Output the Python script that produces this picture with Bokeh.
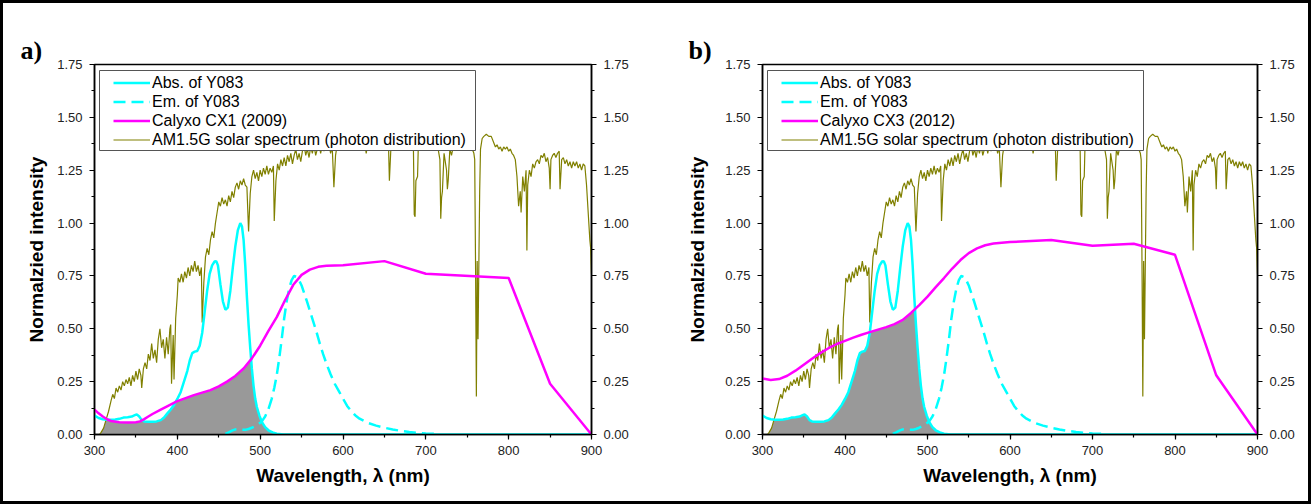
import numpy as np
from bokeh.plotting import figure
from bokeh.models import (Range1d, LinearAxis, SingleIntervalTicker, NumeralTickFormatter,
                          BoxAnnotation, Legend, LegendItem, Title)
from bokeh.layouts import row
from bokeh.embed import file_html
from bokeh.resources import INLINE

# ---------------- data ----------------
solar_wl = [300, 306, 308, 311, 314, 317, 320, 322, 324, 326, 328, 330, 332, 334, 336, 338, 340, 342, 344, 346,
            348, 350, 352, 354, 356, 357, 359, 361, 363, 365, 367, 369, 371, 373, 375, 377, 379, 381, 383, 385,
            387, 389, 391, 392, 393, 395, 396, 398, 400, 401, 403, 405, 407, 409, 411, 413, 415, 417, 419, 421,
            423, 425, 427, 429, 430, 432, 434, 436, 438, 440, 442, 444, 446, 448, 450, 452, 454, 456, 458, 460,
            462, 464, 466, 468, 470, 472, 474, 476, 478, 480, 482, 484, 486, 488, 490, 492, 494, 496, 498, 500,
            502, 504, 506, 508, 510, 512, 514, 516, 517, 519, 521, 523, 525, 527, 529, 531, 533, 535, 537, 539,
            541, 543, 545, 547, 549, 551, 553, 555, 557, 559, 561, 563, 565, 567, 569, 571, 573, 575, 577, 579,
            581, 583, 585, 587, 589, 591, 593, 595, 598, 600, 603, 606, 609, 612, 615, 618, 621, 624, 627, 628,
            630, 633, 636, 640, 644, 648, 652, 655, 656, 658, 662, 666, 670, 674, 678, 682, 685, 686, 687, 688,
            690, 691, 695, 700, 705, 710, 714, 717, 718, 719, 720, 722, 725, 726, 727, 729, 731, 733, 736, 740,
            745, 750, 755, 758, 759, 760, 761, 762, 763, 764, 765, 766, 768, 770, 773, 776, 779, 782, 784, 786,
            788, 790, 792, 794, 796, 798, 800, 802, 804, 806, 808, 810, 812, 814, 815, 817, 819, 821, 822, 823,
            825, 827, 829, 831, 833, 835, 837, 839, 841, 843, 845, 847, 849, 850, 851, 853, 855, 857, 859, 861,
            862, 864, 866, 868, 870, 872, 874, 876, 878, 880, 882, 884, 886, 888, 890, 892, 894, 896, 898, 899,
            900]
solar_val = [0.0, 0.0, 0.01, 0.03, 0.07, 0.11, 0.16, 0.19, 0.17, 0.22, 0.20, 0.23, 0.21, 0.25, 0.23, 0.26, 0.24, 0.27, 0.23, 0.28,
             0.25, 0.30, 0.26, 0.31, 0.28, 0.22, 0.31, 0.34, 0.31, 0.38, 0.35, 0.43, 0.36, 0.40, 0.34, 0.45, 0.50, 0.41, 0.45, 0.36,
             0.46, 0.38, 0.50, 0.52, 0.24, 0.47, 0.26, 0.55, 0.66, 0.74, 0.72, 0.76, 0.72, 0.77, 0.74, 0.79, 0.75, 0.80, 0.77, 0.82,
             0.77, 0.80, 0.75, 0.79, 0.53, 0.72, 0.84, 0.88, 0.85, 0.92, 0.96, 0.93, 1.00, 1.05, 1.10, 1.08, 1.12, 1.09, 1.11, 1.08,
             1.13, 1.10, 1.15, 1.12, 1.17, 1.19, 1.16, 1.20, 1.18, 1.21, 1.18, 1.17, 0.96, 1.14, 1.22, 1.25, 1.21, 1.24, 1.20, 1.25,
             1.22, 1.26, 1.23, 1.27, 1.23, 1.26, 1.24, 1.27, 1.01, 1.20, 1.28, 1.25, 1.30, 1.27, 1.31, 1.27, 1.32, 1.29, 1.33, 1.28,
             1.32, 1.35, 1.30, 1.33, 1.29, 1.34, 1.37, 1.32, 1.35, 1.31, 1.36, 1.33, 1.37, 1.32, 1.35, 1.38, 1.33, 1.37, 1.34, 1.38,
             1.35, 1.38, 1.33, 1.36, 1.17, 1.32, 1.37, 1.39, 1.36, 1.38, 1.40, 1.37, 1.41, 1.39, 1.38, 1.40, 1.37, 1.39, 1.36, 1.33,
             1.38, 1.40, 1.38, 1.41, 1.39, 1.40, 1.38, 1.36, 1.20, 1.37, 1.40, 1.41, 1.39, 1.40, 1.38, 1.39, 1.36, 1.04, 1.03, 1.20,
             1.22, 1.38, 1.40, 1.39, 1.41, 1.39, 1.37, 1.30, 1.02, 1.12, 1.15, 1.33, 1.25, 1.16, 1.20, 1.35, 1.32, 1.36, 1.38, 1.37,
             1.39, 1.38, 1.36, 1.33, 1.30, 0.81, 0.18, 0.82, 0.45, 0.80, 1.15, 1.35, 1.40, 1.41, 1.42, 1.41, 1.41, 1.38, 1.36, 1.37,
             1.35, 1.36, 1.34, 1.36, 1.35, 1.36, 1.34, 1.35, 1.33, 1.32, 1.30, 1.22, 1.08, 1.15, 1.05, 1.22, 1.15, 1.25, 0.87, 1.18,
             1.25, 1.22, 1.28, 1.26, 1.29, 1.30, 1.28, 1.32, 1.31, 1.33, 1.29, 1.31, 1.26, 1.16, 1.30, 1.32, 1.33, 1.31, 1.33, 1.34,
             1.16, 1.30, 1.31, 1.28, 1.30, 1.27, 1.29, 1.26, 1.29, 1.27, 1.29, 1.26, 1.28, 1.25, 1.28, 1.27, 1.18, 1.05, 0.92, 0.88,
             0.76]

abs_wl = [300, 305, 310, 315, 320, 325, 330, 335, 340, 345, 348, 351, 354, 357, 360, 365, 370, 375, 380, 384,
          388, 392, 396, 400, 404, 408, 412, 415, 418, 421, 424, 427, 430, 433, 436, 439, 442, 445, 447, 449,
          452, 455, 458, 461, 464, 467, 470, 473, 476, 478, 480, 482, 484, 486, 488, 490, 492, 494, 496, 499,
          502, 506, 510, 515, 520, 528, 900]
abs_val = [0.090, 0.078, 0.072, 0.070, 0.070, 0.071, 0.074, 0.080, 0.082, 0.085, 0.090, 0.095, 0.085, 0.068, 0.062, 0.060, 0.060, 0.062, 0.068, 0.080,
           0.100, 0.118, 0.140, 0.168, 0.200, 0.250, 0.300, 0.350, 0.385, 0.392, 0.395, 0.420, 0.480, 0.580, 0.680, 0.760, 0.800, 0.818, 0.820, 0.800,
           0.710, 0.630, 0.590, 0.600, 0.680, 0.790, 0.890, 0.965, 1.000, 0.985, 0.920, 0.800, 0.650, 0.520, 0.410, 0.310, 0.230, 0.170, 0.130, 0.090,
           0.060, 0.035, 0.020, 0.010, 0.004, 0.0, 0.0]

em_wl = [458, 462, 466, 470, 474, 478, 482, 486, 490, 494, 498, 502, 506, 510, 514, 517, 520, 523, 526, 529,
         532, 535, 538, 541, 544, 547, 550, 553, 556, 560, 564, 568, 572, 576, 580, 585, 590, 595, 600, 605,
         610, 615, 620, 630, 640, 650, 660, 670, 680, 690, 700, 711]
em_val = [0.003, 0.010, 0.018, 0.024, 0.025, 0.022, 0.022, 0.026, 0.032, 0.040, 0.050, 0.062, 0.085, 0.120, 0.170, 0.220, 0.280, 0.360, 0.450, 0.550,
          0.630, 0.690, 0.730, 0.750, 0.745, 0.730, 0.705, 0.670, 0.635, 0.585, 0.535, 0.485, 0.430, 0.380, 0.335, 0.285, 0.240, 0.205, 0.170, 0.135,
          0.110, 0.090, 0.075, 0.055, 0.042, 0.032, 0.024, 0.017, 0.012, 0.008, 0.005, 0.003]

cx1_wl = [300, 305, 310, 315, 320, 330, 340, 350, 355, 360, 365, 370, 380, 390, 400, 410, 420, 430, 440, 450,
          460, 470, 480, 490, 500, 510, 520, 530, 540, 550, 560, 570, 580, 600, 650, 700, 800, 850, 900]
cx1_val = [0.118, 0.100, 0.085, 0.072, 0.064, 0.058, 0.057, 0.058, 0.062, 0.073, 0.085, 0.097, 0.118, 0.138, 0.158, 0.172, 0.186, 0.198, 0.210, 0.228,
           0.250, 0.277, 0.312, 0.360, 0.420, 0.490, 0.555, 0.635, 0.708, 0.755, 0.780, 0.793, 0.798, 0.800, 0.820, 0.760, 0.740, 0.240, 0.000]

cx3_wl = [300, 310, 320, 330, 340, 350, 360, 370, 380, 390, 400, 410, 420, 430, 440, 450, 460, 470, 480, 490,
          500, 510, 520, 530, 540, 550, 560, 570, 580, 600, 650, 700, 750, 800, 850, 900]
cx3_val = [0.265, 0.258, 0.262, 0.278, 0.302, 0.330, 0.358, 0.385, 0.408, 0.428, 0.443, 0.458, 0.472, 0.484, 0.496, 0.508, 0.522, 0.542, 0.575, 0.612,
           0.652, 0.697, 0.740, 0.785, 0.825, 0.858, 0.880, 0.895, 0.903, 0.910, 0.920, 0.893, 0.902, 0.850, 0.280, 0.000]

panel_tags = ["a)", "b)"]
cx_labels = ["Calyxo CX1 (2009)", "Calyxo CX3 (2012)"]
abs_label = "Abs. of Y083"
em_label = "Em. of Y083"
sun_label = "AM1.5G solar spectrum (photon distribution)"
x_label = "Wavelength, \u03bb (nm)"
y_label = "Normalzied intensity"

# ---------------- styling ----------------
FONT = "Liberation Sans"
CYAN = "#00FFFF"
MAGENTA = "#FF00FF"
OLIVE = "#808000"
FILL = "#999999"
FRAME_W_PX = {0: 497, 1: 495}
FRAME_H_PX = 370


def style_axis(ax, interval):
    ax.ticker = SingleIntervalTicker(interval=interval, num_minor_ticks=2)
    ax.axis_line_color = "black"
    ax.axis_line_width = 1.5
    ax.major_tick_in = 0
    ax.major_tick_out = 5
    ax.minor_tick_in = 0
    ax.minor_tick_out = 3
    ax.major_tick_line_color = "black"
    ax.minor_tick_line_color = "black"
    ax.major_tick_line_width = 1.2
    ax.minor_tick_line_width = 1.2
    ax.major_label_text_font = FONT
    ax.major_label_text_font_size = "13px"
    ax.major_label_text_color = "#222222"
    ax.axis_label_text_font = FONT
    ax.axis_label_text_font_style = "bold"
    ax.axis_label_text_font_size = "19px"
    ax.axis_label_text_color = "black"


def make_panel(i, cx_wl, cx_val, width, left, right, ylab_standoff):
    fw = FRAME_W_PX[i]
    p = figure(width=width, height=498, x_range=Range1d(300, 900), y_range=Range1d(0, 1.75),
               output_backend="svg", toolbar_location=None, title=None,
               min_border_left=left, min_border_right=right, min_border_top=61, min_border_bottom=67)
    p.xgrid.visible = False
    p.ygrid.visible = False
    p.outline_line_color = "black"
    p.outline_line_width = 1.5
    p.background_fill_color = "white"
    p.border_fill_color = "white"

    # panel tag, then an invisible spacer that sits between it and the frame
    tag = Title(text=panel_tags[i], align="left", offset=-74,
                text_font="Liberation Serif", text_font_style="bold",
                text_font_size="26px", text_color="black", standoff=0)
    p.add_layout(tag, "above")
    spacer = Title(text="x", text_alpha=0, text_font=FONT, text_font_size="18px", standoff=0)
    p.add_layout(spacer, "above")

    # overlap of the three spectra (shaded region)
    grid = np.arange(300, 900.25, 0.5)
    overlap = np.minimum.reduce([np.interp(grid, solar_wl, solar_val),
                                 np.interp(grid, abs_wl, abs_val),
                                 np.interp(grid, cx_wl, cx_val)])
    p.varea(x=grid, y1=np.zeros_like(grid), y2=overlap, fill_color=FILL, fill_alpha=1)

    r_sun = p.line(solar_wl, solar_val, line_color=OLIVE, line_width=1.2)
    r_em = p.line(em_wl, em_val, line_color=CYAN, line_width=2.5, line_dash="12 6")
    r_abs = p.line(abs_wl, abs_val, line_color=CYAN, line_width=2.5)
    r_cx = p.line(cx_wl, cx_val, line_color=MAGENTA, line_width=2.5)

    style_axis(p.xaxis[0], 100)
    p.xaxis[0].axis_label = x_label
    p.xaxis[0].axis_label_standoff = 7
    p.xaxis[0].major_label_standoff = 6
    style_axis(p.yaxis[0], 0.25)
    p.yaxis[0].formatter = NumeralTickFormatter(format="0.00")
    p.yaxis[0].axis_label = y_label
    p.yaxis[0].axis_label_standoff = ylab_standoff
    p.yaxis[0].major_label_standoff = 7

    ra = LinearAxis(formatter=NumeralTickFormatter(format="0.00"))
    style_axis(ra, 0.25)
    ra.major_label_standoff = 7
    p.add_layout(ra, "right")

    # legend box (pixel offsets converted to data units)
    dx = 600.0 / fw
    dy = 1.75 / FRAME_H_PX
    box = BoxAnnotation(left=300 + 5 * dx, right=300 + 381 * dx,
                        top=1.75 - 6 * dy, bottom=1.75 - 86 * dy,
                        fill_color="white", fill_alpha=1.0,
                        line_color="#555555", line_width=1, line_alpha=1.0)
    p.add_layout(box)

    legend = Legend(items=[LegendItem(label=abs_label, renderers=[r_abs]),
                           LegendItem(label=em_label, renderers=[r_em]),
                           LegendItem(label=cx_labels[i], renderers=[r_cx]),
                           LegendItem(label=sun_label, renderers=[r_sun])],
                    location=(19, 285), padding=0, spacing=0, margin=0,
                    label_height=19, glyph_height=19, glyph_width=37, label_standoff=2,
                    border_line_alpha=0, background_fill_alpha=0,
                    label_text_font=FONT, label_text_font_size="16px",
                    label_text_color="black")
    p.add_layout(legend)
    return p


pa = make_panel(0, cx1_wl, cx1_val, 657, 91, 69, 7)
pb = make_panel(1, cx3_wl, cx3_val, 648, 102, 51, 14)

layout = row(pa, pb, styles={"border": "3px solid black"})
open("out.html", "w").write(file_html(layout, INLINE))
